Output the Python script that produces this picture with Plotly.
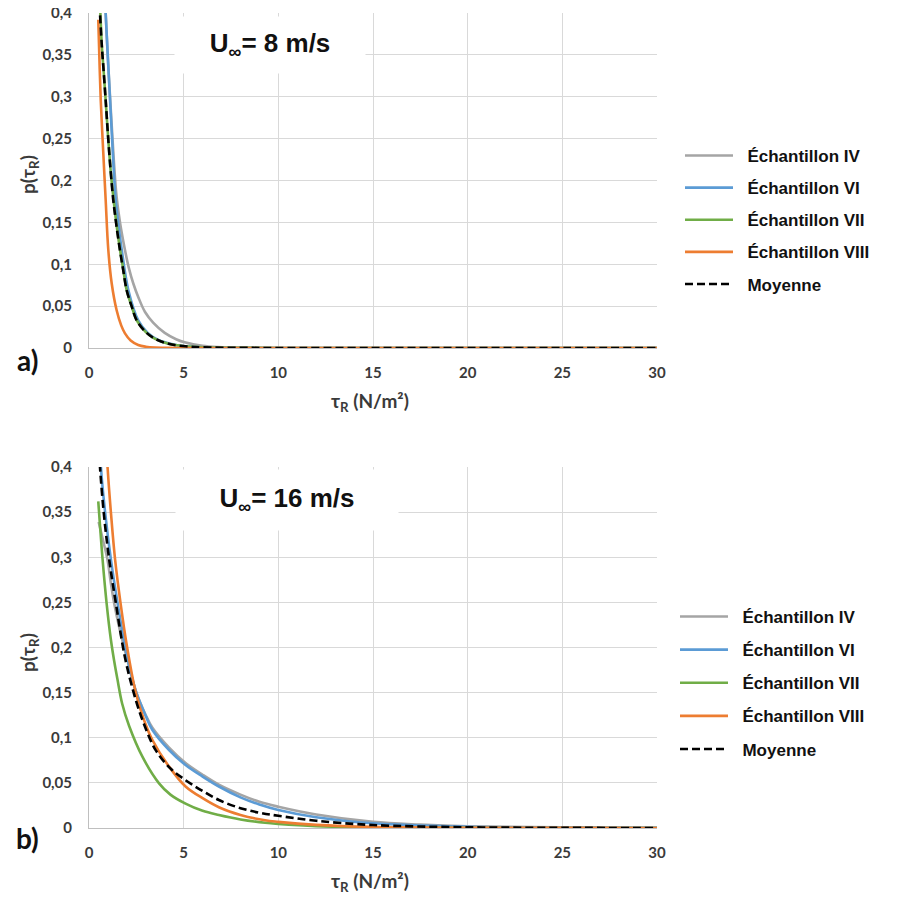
import plotly.graph_objects as go

# ---------------- data ----------------
names = ["Échantillon IV", "Échantillon VI", "Échantillon VII", "Échantillon VIII", "Moyenne"]
colors = ["#A5A5A5", "#5B9BD5", "#70AD47", "#ED7D31", "#000000"]

# a) U = 8 m/s
a_iv_x = [0.75, 0.88, 1.0, 1.15, 1.3, 1.46, 1.65, 1.9, 2.1, 2.34, 2.6, 2.96, 3.4, 4.0, 4.6, 5.1, 6.0, 6.8, 8, 10, 15, 20, 25, 30]
a_iv_y = [0.46, 0.40, 0.345, 0.285, 0.228, 0.18, 0.148, 0.117, 0.096, 0.077, 0.061, 0.043, 0.03, 0.018, 0.0105, 0.0065, 0.0027, 0.0012, 0.0003, 0, 0, 0, 0, 0]
a_vi_x = [0.75, 0.88, 1.0, 1.15, 1.3, 1.41, 1.55, 1.73, 2.08, 2.6, 3.1, 3.66, 4.3, 5.1, 6.0, 8, 10, 15, 20, 25, 30]
a_vi_y = [0.46, 0.40, 0.345, 0.28, 0.215, 0.177, 0.148, 0.117, 0.069, 0.033, 0.018, 0.0096, 0.005, 0.002, 0.0008, 0.0002, 0, 0, 0, 0, 0]
a_vii_x = [0.52, 0.6, 0.68, 0.76, 0.88, 1.0, 1.15, 1.3, 1.45, 1.64, 1.8, 1.99, 2.25, 2.52, 3.0, 3.49, 4.2, 5.1, 6.0, 8, 10, 15, 20, 25, 30]
a_vii_y = [0.44, 0.40, 0.36, 0.335, 0.296, 0.255, 0.21, 0.177, 0.148, 0.117, 0.095, 0.069, 0.05, 0.033, 0.019, 0.011, 0.005, 0.002, 0.0008, 0.0002, 0, 0, 0, 0, 0]
a_viii_x = [0.49, 0.55, 0.62, 0.75, 0.88, 1.02, 1.2, 1.46, 1.7, 1.9, 2.2, 2.6, 3.0, 3.5, 4.0, 5.0, 10, 15, 20, 25, 30]
a_viii_y = [0.392, 0.345, 0.296, 0.235, 0.177, 0.117, 0.077, 0.045, 0.027, 0.0175, 0.009, 0.0036, 0.0015, 0.0005, 0.0002, 0, 0, 0, 0, 0, 0]
a_moy_x = [0.5, 0.58, 0.68, 0.76, 0.88, 1.0, 1.15, 1.28, 1.45, 1.64, 1.8, 1.99, 2.25, 2.52, 3.0, 3.49, 4.2, 5.1, 6.0, 8, 10, 15, 20, 25, 30]
a_moy_y = [0.44, 0.40, 0.36, 0.335, 0.296, 0.255, 0.21, 0.177, 0.146, 0.116, 0.094, 0.069, 0.05, 0.033, 0.019, 0.011, 0.005, 0.002, 0.0008, 0.0002, 0, 0, 0, 0, 0]

# b) U = 16 m/s
b_iv_x = [0.51, 0.75, 0.98, 1.15, 1.33, 1.6, 2.03, 2.47, 3.0, 3.35, 4.23, 5.1, 6.0, 6.86, 8.0, 9.0, 10, 12, 15, 17.5, 20, 25, 30]
b_iv_y = [0.339, 0.318, 0.297, 0.272, 0.249, 0.222, 0.186, 0.152, 0.125, 0.111, 0.089, 0.072, 0.059, 0.048, 0.037, 0.029, 0.0236, 0.015, 0.0068, 0.0038, 0.002, 0.0007, 0.0002]
b_vi_x = [0.5, 0.63, 0.85, 1.16, 1.51, 2.03, 2.47, 3.0, 3.35, 4.23, 5.1, 6.0, 6.86, 8.0, 9.0, 10, 12, 15, 20, 25, 30]
b_vi_y = [0.47, 0.40, 0.35, 0.297, 0.249, 0.188, 0.152, 0.124, 0.1086, 0.0864, 0.0698, 0.057, 0.046, 0.034, 0.026, 0.02, 0.012, 0.0052, 0.0014, 0.0004, 0.0001]
b_vii_x = [0.49, 0.72, 0.93, 1.16, 1.33, 1.5, 1.75, 2.12, 2.82, 3.7, 4.3, 5.1, 6.0, 6.86, 8, 9.3, 10, 12, 15, 20, 25, 30]
b_vii_y = [0.362, 0.297, 0.249, 0.208, 0.185, 0.165, 0.138, 0.113, 0.079, 0.0495, 0.037, 0.027, 0.019, 0.0144, 0.0095, 0.0058, 0.0045, 0.002, 0.0006, 0.0001, 0, 0]
b_viii_x = [0.8, 0.98, 1.16, 1.38, 1.68, 2.0, 2.47, 2.9, 3.35, 4.23, 5.1, 6.0, 6.86, 8.0, 9.3, 10, 12, 15, 20, 25, 30]
b_viii_y = [0.47, 0.40, 0.349, 0.297, 0.247, 0.202, 0.150, 0.12, 0.0975, 0.068, 0.046, 0.033, 0.023, 0.0145, 0.0085, 0.0068, 0.0035, 0.0012, 0.0002, 0.0001, 0]
b_moy_x = [0.5, 0.58, 0.8, 1.07, 1.42, 1.91, 2.47, 3.0, 3.53, 4.3, 5.1, 6.0, 6.86, 8.0, 9.0, 10, 12, 15, 20, 25, 30]
b_moy_y = [0.43, 0.40, 0.345, 0.297, 0.249, 0.188, 0.142, 0.11, 0.086, 0.066, 0.053, 0.041, 0.031, 0.022, 0.017, 0.0135, 0.008, 0.0033, 0.0008, 0.0002, 0]

x_ticks = [0, 5, 10, 15, 20, 25, 30]
y_ticks = [0, 0.05, 0.1, 0.15, 0.2, 0.25, 0.3, 0.35, 0.4]

# ---------------- figure ----------------
OFF = 8                      # default page body margin
W, H = 904 - OFF, 899 - OFF
ML, MT = 89 - OFF, 13 - OFF
MR = W - (657 - OFF)
MB = H - (828 - OFF)
PW, PH = W - ML - MR, H - MT - MB

def px(sx):
    """screen x pixel -> paper x"""
    return (sx - OFF - ML) / PW

def py(sy):
    """screen y pixel -> paper y"""
    return (H - MB - (sy - OFF)) / PH

fig = go.Figure()

sets = [
    ("x", "y", "legend", [(a_iv_x, a_iv_y), (a_vi_x, a_vi_y), (a_vii_x, a_vii_y), (a_viii_x, a_viii_y), (a_moy_x, a_moy_y)]),
    ("x2", "y2", "legend2", [(b_iv_x, b_iv_y), (b_vi_x, b_vi_y), (b_vii_x, b_vii_y), (b_viii_x, b_viii_y), (b_moy_x, b_moy_y)]),
]
for xa, ya, lg, series in sets:
    for i, (xs, ys) in enumerate(series):
        dash = "8px,4px" if i == 4 else "solid"
        fig.add_trace(go.Scatter(
            x=xs, y=ys, mode="lines", name="\u00a0\u00a0" + names[i], xaxis=xa, yaxis=ya,
            legend=lg, legendgroup=lg + str(i),
            line=dict(color=colors[i], width=2.6, dash=dash, shape="spline", smoothing=1.0),
            hoverinfo="skip",
        ))

tick_font = dict(family="Lato", size=15, color="#3a3a3a", weight="bold")
axis_common = dict(
    showgrid=True, gridcolor="#D9D9D9", gridwidth=1,
    showline=True, linecolor="#BFBFBF", linewidth=1,
    zeroline=False, ticks="", tickfont=tick_font, fixedrange=True, automargin=False,
    ticklabeloverflow="allow",
)
ax_top_y = (py(348), py(13))
ax_bot_y = (py(828), py(467))

legend_font = dict(family="Liberation Sans", size=17, color="#111111", weight="bold")
fig.update_layout(
    width=W, height=H,
    margin=dict(l=ML, r=MR, t=MT, b=MB, autoexpand=False),
    paper_bgcolor="white", plot_bgcolor="white",
    separators=", ",
    showlegend=True,
    xaxis=dict(domain=[0, 1], anchor="y", range=[0, 30], tickvals=x_ticks, ticklabelstandoff=11, **axis_common),
    yaxis=dict(domain=list(ax_top_y), anchor="x", range=[0, 0.4], tickvals=y_ticks, ticklabelstandoff=13, **axis_common),
    xaxis2=dict(domain=[0, 1], anchor="y2", range=[0, 30], tickvals=x_ticks, ticklabelstandoff=11, **axis_common),
    yaxis2=dict(domain=list(ax_bot_y), anchor="x2", range=[0, 0.4], tickvals=y_ticks, ticklabelstandoff=13, **axis_common),
    legend=dict(x=px(680), y=py(138), xanchor="left", yanchor="top", font=legend_font,
                itemwidth=48, tracegroupgap=7, traceorder="grouped", bgcolor="rgba(0,0,0,0)"),
    legend2=dict(x=px(675), y=py(599), xanchor="left", yanchor="top", font=legend_font,
                 itemwidth=48, tracegroupgap=8, traceorder="grouped", bgcolor="rgba(0,0,0,0)"),
)

ann_font_title = dict(family="Lato", size=19, color="#3a3a3a", weight="bold")
annotations = [
    dict(text="U<sub>∞</sub>= 8 m/s", x=px(270), y=py(45), width=188, height=54,
         font=dict(family="Liberation Sans", size=26, color="#111111", weight="bold"), bgcolor="white"),
    dict(text="U<sub>∞</sub>= 16 m/s", x=px(287), y=py(500), width=220, height=58,
         font=dict(family="Liberation Sans", size=26, color="#111111", weight="bold"), bgcolor="white"),
    dict(text="p(τ<sub>R</sub>)", x=px(29), y=py(175), textangle=-90, font=ann_font_title),
    dict(text="p(τ<sub>R</sub>)", x=px(29), y=py(653), textangle=-90, font=ann_font_title),
    dict(text="τ<sub>R</sub> (N/m²)", x=px(370), y=py(402), font=ann_font_title),
    dict(text="τ<sub>R</sub> (N/m²)", x=px(370), y=py(882), font=ann_font_title),
    dict(text="a)", x=px(27), y=py(360), font=dict(family="Lato", size=28, color="#111111", weight="bold")),
    dict(text="b)", x=px(27), y=py(838), font=dict(family="Lato", size=28, color="#111111", weight="bold")),
]
for a in annotations:
    a.update(xref="paper", yref="paper", showarrow=False, xanchor="center", yanchor="middle")
fig.update_layout(annotations=annotations)

fig.write_html("out.html")
